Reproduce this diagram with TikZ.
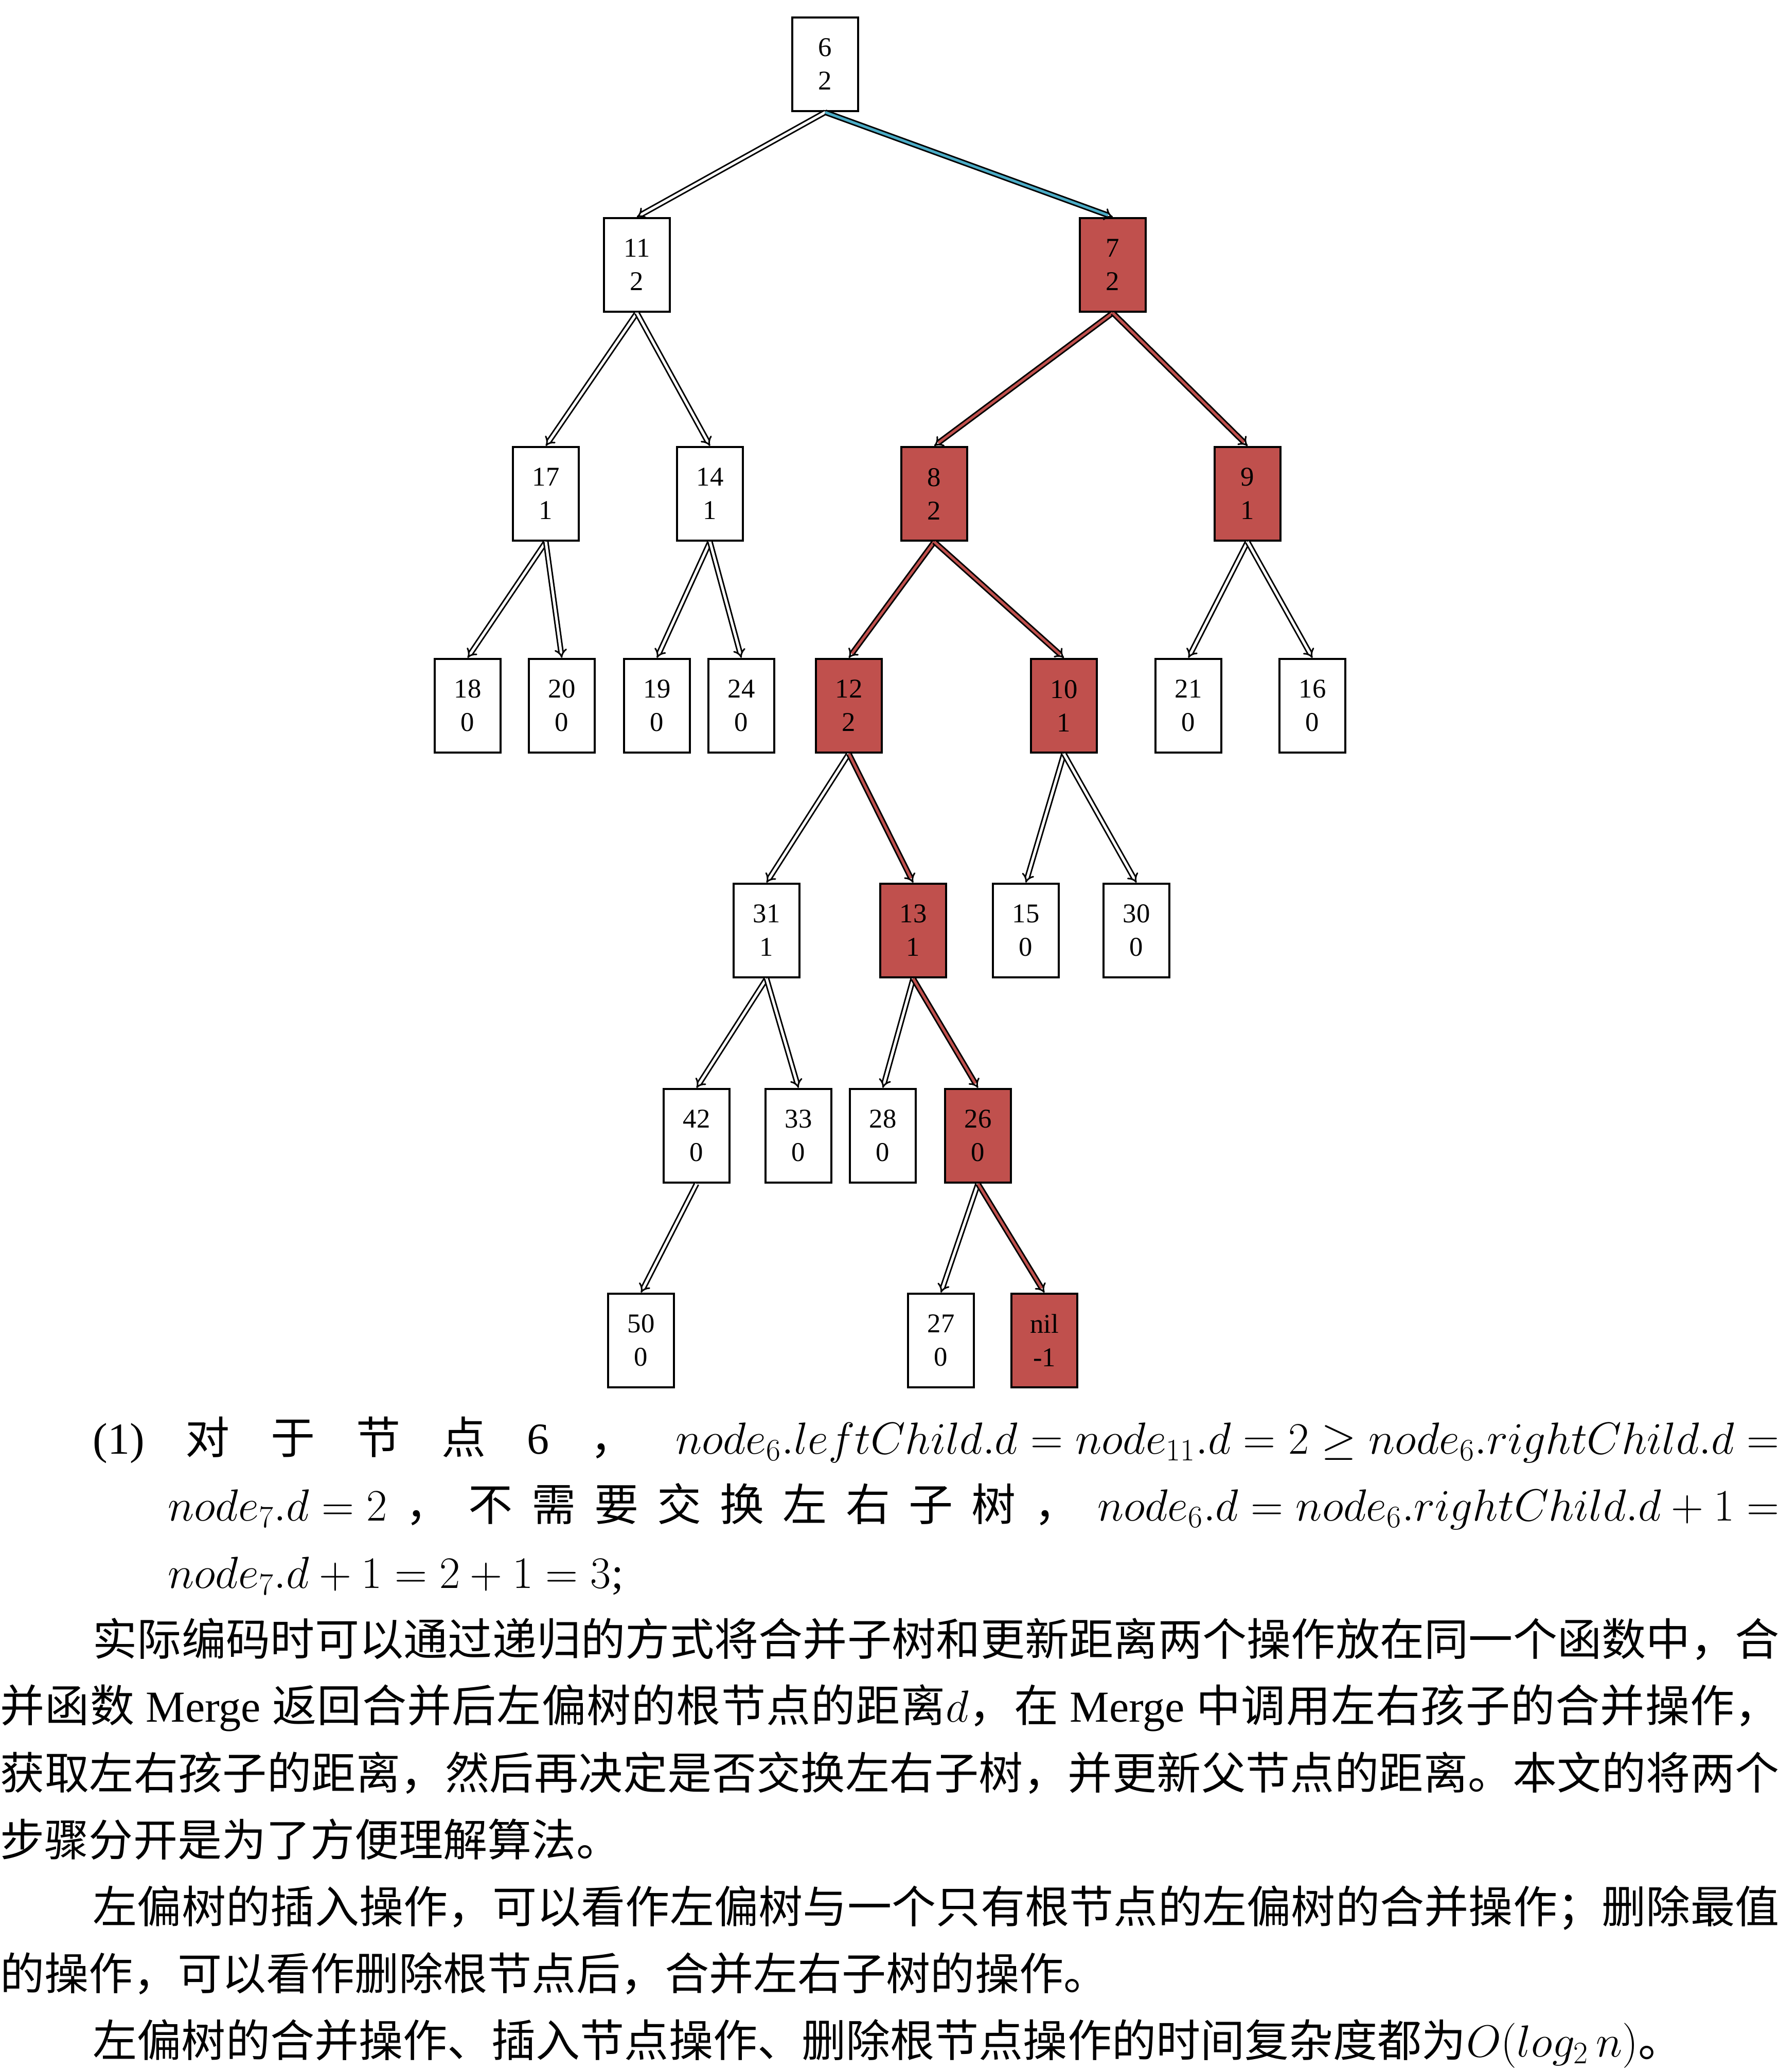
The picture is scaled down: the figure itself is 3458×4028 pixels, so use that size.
\documentclass[tikz,border=0pt]{standalone}
\usepackage{fontspec}
\setmainfont{Liberation Serif}
\newfontfamily\cjk{Noto Sans CJK SC}
\usetikzlibrary{arrows.meta}
\definecolor{nred}{HTML}{C0504D}
\definecolor{nblue}{HTML}{4BACC6}
\makeatletter
\def\spr@endm{\spr@end}
\def\spr@loop#1{\def\spr@arg{#1}\ifx\spr@arg\spr@endm\else{#1}\hskip0pt plus 1fil minus 2pt\relax\expandafter\spr@loop\fi}
\newcommand\jline[2]{\hbox to #1{\spr@loop#2\spr@end\unskip}}
\makeatother
\tikzset{
  tn/.style={draw, line width=0.45mm, minimum width=12.8mm, minimum height=18.2mm,
    inner sep=0pt, align=center, font=\fontsize{15pt}{18.5pt}\selectfont},
  rn/.style={tn, fill=nred},
  wedge/.style={line width=0.3mm, double=white, double distance=0.5mm, -{Implies}},
  redge/.style={wedge, double=nred},
  bedge/.style={wedge, double=nblue},
  tline/.style={anchor=base west, inner sep=0pt, font=\cjk\fontsize{24.5pt}{30pt}\selectfont}
}
\begin{document}
\begin{tikzpicture}[x=0.1mm,y=-0.1mm]
\useasboundingbox (0,0) rectangle (3458,4028);
\fill[white] (0,0) rectangle (3458,4028);
% level 0
\node[tn] (n6) at (1604,125) {6\\2};
% level 1
\node[tn] (n11) at (1238,515) {11\\2};
\node[rn] (n7) at (2163,515) {7\\2};
% level 2
\node[tn] (n17) at (1061,960) {17\\1};
\node[tn] (n14) at (1380,960) {14\\1};
\node[rn] (n8) at (1816,960) {8\\2};
\node[rn] (n9) at (2425,960) {9\\1};
% level 3
\node[tn] (n18) at (909,1372) {18\\0};
\node[tn] (n20) at (1092,1372) {20\\0};
\node[tn] (n19) at (1277,1372) {19\\0};
\node[tn] (n24) at (1441,1372) {24\\0};
\node[rn] (n12) at (1650,1372) {12\\2};
\node[rn] (n10) at (2068,1372) {10\\1};
\node[tn] (n21) at (2310,1372) {21\\0};
\node[tn] (n16) at (2551,1372) {16\\0};
% level 4
\node[tn] (n31) at (1490,1809) {31\\1};
\node[rn] (n13) at (1775,1809) {13\\1};
\node[tn] (n15) at (1994,1809) {15\\0};
\node[tn] (n30) at (2209,1809) {30\\0};
% level 5
\node[tn] (n42) at (1354,2208) {42\\0};
\node[tn] (n33) at (1552,2208) {33\\0};
\node[tn] (n28) at (1716,2208) {28\\0};
\node[rn] (n26) at (1901,2208) {26\\0};
% level 6
\node[tn] (n50) at (1246,2606) {50\\0};
\node[tn] (n27) at (1829,2606) {27\\0};
\node[rn] (nnil) at (2030,2606) {nil\\-1};
% edges
\draw[wedge] (n6.south) -- (n11.north);
\draw[bedge] (n6.south) -- (n7.north);
\draw[wedge] (n11.south) -- (n17.north);
\draw[wedge] (n11.south) -- (n14.north);
\draw[redge] (n7.south) -- (n8.north);
\draw[redge] (n7.south) -- (n9.north);
\draw[wedge] (n17.south) -- (n18.north);
\draw[wedge] (n17.south) -- (n20.north);
\draw[wedge] (n14.south) -- (n19.north);
\draw[wedge] (n14.south) -- (n24.north);
\draw[redge] (n8.south) -- (n12.north);
\draw[redge] (n8.south) -- (n10.north);
\draw[wedge] (n9.south) -- (n21.north);
\draw[wedge] (n9.south) -- (n16.north);
\draw[wedge] (n12.south) -- (n31.north);
\draw[redge] (n12.south) -- (n13.north);
\draw[wedge] (n10.south) -- (n15.north);
\draw[wedge] (n10.south) -- (n30.north);
\draw[wedge] (n31.south) -- (n42.north);
\draw[wedge] (n31.south) -- (n33.north);
\draw[wedge] (n13.south) -- (n28.north);
\draw[redge] (n13.south) -- (n26.north);
\draw[wedge] (n42.south) -- (n50.north);
\draw[wedge] (n26.south) -- (n27.north);
\draw[redge] (n26.south) -- (nnil.north);
% text
\node[tline] (t1) at (180,2826) {\jline{327.8mm}{{\rmfamily(1)}对于节点{\rmfamily 6}，{$node_6.leftChild.d=node_{11}.d=2\geq node_6.rightChild.d=$}}};
\node[tline] (t2) at (326,2956) {\jline{313.2mm}{{$node_7.d=2$}，不需要交换左右子树，{$node_6.d=node_6.rightChild.d+1=$}}};
\node[tline] (t3) at (326,3087) {$node_7.d+1=2+1=3${\rmfamily;}};
\node[tline] (t4) at (180,3218) {\jline{327.8mm}{实际编码时可以通过递归的方式将合并子树和更新距离两个操作放在同一个函数中，合}};
\node[tline] (t5) at (0,3347) {\jline{345.8mm}{并函数{\rmfamily\ Merge\ }返回合并后左偏树的根节点的距离{$d$}，在{\rmfamily\ Merge\ }中调用左右孩子的合并操作，}};
\node[tline] (t6) at (0,3478) {\jline{345.8mm}{获取左右孩子的距离，然后再决定是否交换左右子树，并更新父节点的距离。本文的将两个}};
\node[tline] (t7) at (0,3608) {步骤分开是为了方便理解算法。};
\node[tline] (t8) at (180,3738) {\jline{327.8mm}{左偏树的插入操作，可以看作左偏树与一个只有根节点的左偏树的合并操作；删除最值}};
\node[tline] (t9) at (0,3868) {的操作，可以看作删除根节点后，合并左右子树的操作。};
\node[tline] (t10) at (180,3998) {左偏树的合并操作、插入节点操作、删除根节点操作的时间复杂度都为$O(log_2\,n)$。};
\end{tikzpicture}
\end{document}
